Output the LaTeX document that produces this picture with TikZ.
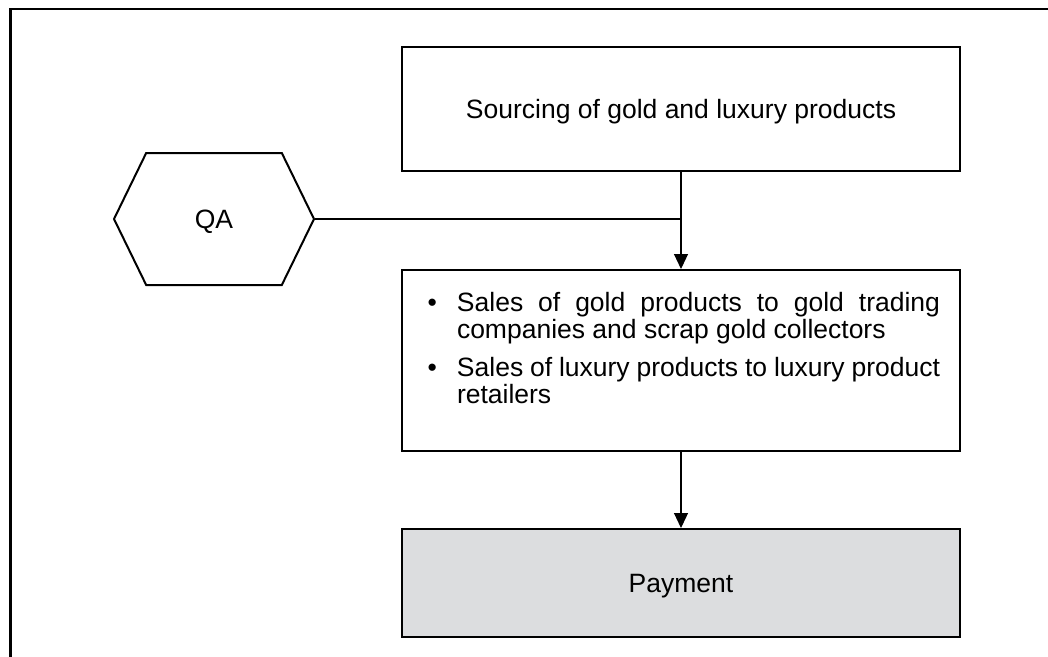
\documentclass[tikz,border=0pt]{standalone}
\usepackage{fontspec}
\setmainfont{Liberation Sans}
\usetikzlibrary{shapes.symbols,arrows.meta}

\newcommand\salesitem[1]{\par\hangindent=35pt\hangafter=0\noindent\llap{\textbullet\hskip 20pt}#1\par}

\tikzset{
  flowbox/.style={draw, line width=2pt, minimum width=558pt, inner xsep=20pt},
  onelabel/.style={text depth=0pt},
  hexnode/.style={draw, line width=2pt, shape=signal, signal to=west and east,
    signal pointer angle=128, minimum width=200pt, minimum height=132pt, onelabel},
  arr/.style={line width=1.2pt, -{Triangle[length=15pt,width=14pt]}},
}

\begin{document}
\begin{tikzpicture}[x=1pt, y=-1pt, font=\fontsize{26.5}{27}\selectfont]
  \useasboundingbox (0,0) rectangle (1048,656);
  \clip (0,0) rectangle (1048,656);
  % outer frame, cut off on the right and at the bottom
  \draw[line width=2.5pt] (10.5,700) |- (1100,9);

  \node[flowbox, onelabel, minimum height=124pt] (source) at (681,109) {Sourcing of gold and luxury products};
  \node[hexnode] (qa) at (214,219) {QA};
  \node[flowbox, minimum height=181pt, text width=518pt, align=justify] (sales) at (681,360.5) {%
    \hyphenpenalty=10000\exhyphenpenalty=10000
    \salesitem{Sales of gold products to gold trading companies and scrap gold collectors}\vspace{11pt}
    \salesitem{Sales of luxury products to luxury product retailers}\vspace{6pt}\noindent\mbox{}};
  \node[flowbox, onelabel, minimum height=108pt, fill={rgb,255:red,220;green,221;blue,223}] (pay) at (681,583) {Payment};

  \coordinate (join) at (source.south |- qa.east);
  \draw[arr] (source) -- (sales);
  \draw[line width=1.2pt] (qa.east) -- (join);
  \draw[arr] (sales) -- (pay);
\end{tikzpicture}
\end{document}
